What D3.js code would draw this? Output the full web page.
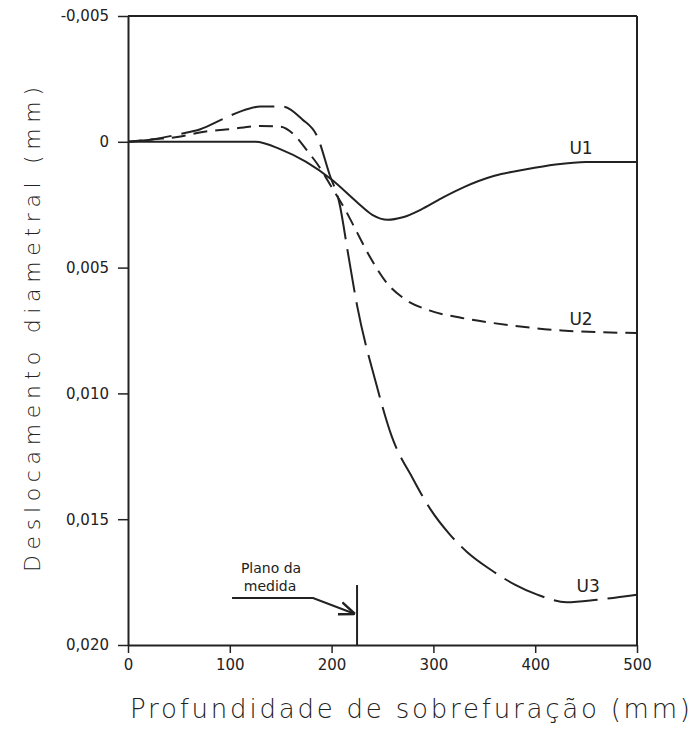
<!DOCTYPE html>
<html><head><meta charset="utf-8">
<script src="https://cdn.jsdelivr.net/npm/d3@7"></script>
<style>
html,body{margin:0;padding:0;background:#fff;}
svg{display:block;font-family:"DejaVu Sans",sans-serif;}
</style></head>
<body><svg id="c" width="696" height="731"></svg>
<script>
// depth (mm)
const u1X = [0, 50, 100, 125, 150, 175, 200, 225, 240, 255, 270, 290, 310, 330, 360, 390, 420, 450, 500];
const u1Y = [0, 0, 0, 0, 0.0003, 0.0008, 0.0015, 0.0024, 0.0029, 0.0031, 0.0030, 0.00265, 0.0022, 0.0018, 0.00135, 0.0011, 0.0009, 0.0008, 0.0008];
const u2X = [0, 25, 50, 75, 100, 130, 150, 165, 175, 188, 200, 212, 225, 238, 254, 270, 296, 328, 377, 426, 500];
const u2Y = [0, -0.0001, -0.0002, -0.0004, -0.0005, -0.00063, -0.0006, -0.0002, 0.0003, 0.0010, 0.0018, 0.0026, 0.0036, 0.0046, 0.0056, 0.0062, 0.0067, 0.0070, 0.0073, 0.0075, 0.0076];
const u3X = [0, 25, 50, 71, 93, 110, 130, 152, 171, 186, 198, 208, 216, 225, 243, 259, 280, 297, 316, 333, 356, 380, 402, 431, 461, 500];
const u3Y = [0, -0.0001, -0.0003, -0.0005, -0.0009, -0.0012, -0.0014, -0.0014, -0.0009, -0.0002, 0.0013, 0.0025, 0.0044, 0.0065, 0.0095, 0.0117, 0.0134, 0.0146, 0.0156, 0.0163, 0.0170, 0.0176, 0.0180, 0.0183, 0.0182, 0.0180];
const xTicks = [0, 100, 200, 300, 400, 500];
const xTickLabels = ["0", "100", "200", "300", "400", "500"];
const yTicks = [-0.005, 0, 0.005, 0.010, 0.015, 0.020];
const yTickLabels = ["-0,005", "0", "0,005", "0,010", "0,015", "0,020"];
const seriesNames = ["U1", "U2", "U3"];
const labelX = [445, 445, 452];
const labelY = [0.0005, 0.0073, 0.0179];
const planeX = 225;
const xTitle = "Profundidade de sobrefuração (mm)";
const yTitle = "Deslocamento diametral (mm)";
const annot = ["Plano da", "medida"];

const svg = d3.select("#c");
const ink = "#222";
const x = d3.scaleLinear().domain([0, 500]).range([128, 637]);
const y = d3.scaleLinear().domain([-0.005, 0.020]).range([16, 645]);

// frame
svg.append("line").attr("x1", x(0)).attr("x2", x(500)).attr("y1", y(-0.005)).attr("y2", y(-0.005)).attr("stroke", ink).attr("stroke-width", 2);
svg.append("line").attr("x1", x(500)).attr("x2", x(500)).attr("y1", y(-0.005)).attr("y2", y(0.020)).attr("stroke", ink).attr("stroke-width", 2);

const xAxis = d3.axisBottom(x).tickValues(xTicks).tickFormat((d, i) => xTickLabels[i]).tickSize(8).tickSizeOuter(0).tickPadding(6);
const gx = svg.append("g").attr("transform", `translate(0,${y(0.020)})`).call(xAxis);
const yAxis = d3.axisLeft(y).tickValues(yTicks).tickFormat((d, i) => yTickLabels[i]).tickSize(10).tickSizeOuter(0).tickPadding(6);
const gy = svg.append("g").attr("transform", `translate(${x(0)},0)`).call(yAxis);
[gx, gy].forEach(g => {
  g.select(".domain").attr("stroke", ink).attr("stroke-width", 2);
  g.selectAll(".tick line").attr("stroke", ink).attr("stroke-width", 1.5);
  g.selectAll(".tick text").attr("fill", ink).style("font-size", "15px").style("font-family", "'DejaVu Sans',sans-serif");
});
gy.selectAll(".tick text").attr("dx", "-3").style("font-size", "15px");

const line = d3.line().x(d => x(d[0])).y(d => y(d[1])).curve(d3.curveMonotoneX);
const series = [
  {xs: u1X, ys: u1Y, dash: null},
  {xs: u2X, ys: u2Y, dash: "14,8"},
  {xs: u3X, ys: u3Y, dash: "44,10"}
];
series.forEach((s, i) => {
  const pts = s.xs.map((v, j) => [v, s.ys[j]]);
  svg.append("path").datum(pts).attr("d", line).attr("fill", "none")
    .attr("stroke", ink).attr("stroke-width", 2)
    .attr("stroke-dasharray", s.dash);
  svg.append("text").attr("x", x(labelX[i])).attr("y", y(labelY[i])).attr("text-anchor", "middle")
    .attr("fill", ink).style("font-size", "17px").text(seriesNames[i]);
});

// annotation
const px = x(planeX);
svg.append("line").attr("x1", px).attr("x2", px).attr("y1", 585).attr("y2", y(0.020)).attr("stroke", ink).attr("stroke-width", 2);
svg.append("defs").append("marker").attr("id", "ar").attr("viewBox", "0 0 10 10").attr("refX", 10).attr("refY", 5)
  .attr("markerWidth", 8).attr("markerHeight", 8).attr("orient", "auto")
  .append("path").attr("d", "M0,1 L10,5 L0,9").attr("fill", "none").attr("stroke", ink).attr("stroke-width", 1.5);
svg.append("path").attr("d", `M${px - 125},598 L${px - 44},598 L${px - 2},614`).attr("fill", "none")
  .attr("stroke", ink).attr("stroke-width", 2).attr("marker-end", "url(#ar)");
svg.append("text").attr("x", px - 86).attr("y", 573).attr("text-anchor", "middle").attr("fill", ink).style("font-size", "14px").text(annot[0]);
svg.append("text").attr("x", px - 87).attr("y", 591).attr("text-anchor", "middle").attr("fill", ink).style("font-size", "14px").text(annot[1]);

// titles
svg.append("text").attr("x", 130).attr("y", 718).attr("textLength", 560).attr("lengthAdjust", "spacing")
  .attr("fill", ink).style("font-size", "26px").style("font-weight", "300").text(xTitle);
svg.append("text").attr("transform", "translate(40,572) rotate(-90)").attr("textLength", 485).attr("lengthAdjust", "spacing")
  .attr("fill", ink).style("font-size", "22px").style("font-weight", "300").text(yTitle);
</script></body></html>
